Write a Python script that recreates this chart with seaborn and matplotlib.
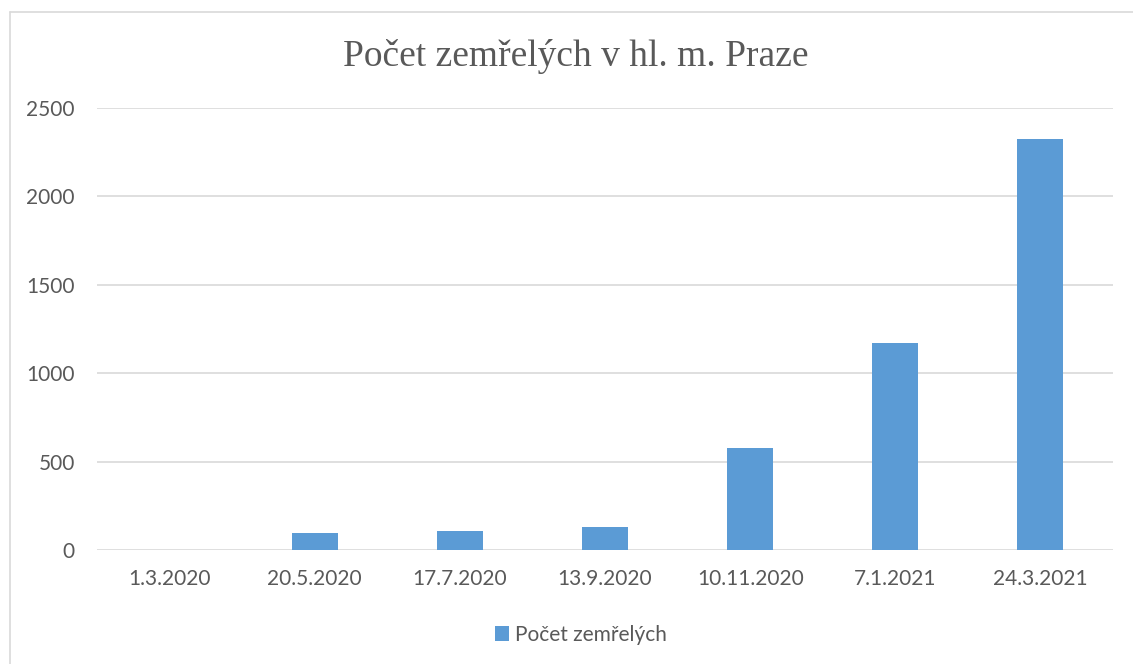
import matplotlib
matplotlib.use("Agg")
import matplotlib.pyplot as plt
import seaborn as sns
import pandas as pd
from matplotlib.lines import Line2D
from matplotlib.patches import Patch

categories = ["1.3.2020", "20.5.2020", "17.7.2020", "13.9.2020", "10.11.2020", "7.1.2021", "24.3.2021"]
values = [0, 94, 109, 132, 575, 1169, 2327]
y_ticks = [0, 500, 1000, 1500, 2000, 2500]
series_name = "Počet zemřelých"
title = "Počet zemřelých v hl. m. Praze"

sns.set_theme(style="white")
plt.rcParams['font.family'] = ['Lato', 'DejaVu Sans']

text_color = "#595959"
bar_color = "#5B9BD5"
grid_color = "#D9D9D9"

df = pd.DataFrame({"date": categories, "count": values})

fig = plt.figure(figsize=(11.33, 6.64), dpi=100)
fig.patch.set_facecolor("white")
ax = fig.add_axes([97 / 1133, 1 - 550 / 664, (1113 - 97) / 1133, (550 - 108) / 664])

sns.barplot(data=df, x="date", y="count", color=bar_color, width=0.317,
            saturation=1, ax=ax, order=categories, edgecolor="none")

ax.set_ylim(0, 2500)
ax.set_xlim(-0.5, len(categories) - 0.5)
ax.set_yticks(y_ticks)
ax.set_yticklabels([str(t) for t in y_ticks])
ax.set_xlabel("")
ax.set_ylabel("")
for s in ax.spines.values():
    s.set_visible(False)
ax.yaxis.grid(True, color=grid_color, linewidth=1.2)
ax.set_axisbelow(True)
ax.tick_params(axis="both", length=0, labelsize=15, colors=text_color)
ax.tick_params(axis="y", pad=16)
ax.tick_params(axis="x", pad=14)

fig.text(576 / 1133, 1 - 56 / 664, title, ha="center", va="center",
         fontsize=27, color=text_color, family=["Liberation Serif", "DejaVu Serif"])

handles = [Patch(facecolor=bar_color, edgecolor="none", label=series_name)]
fig.legend(handles=handles, loc="center", bbox_to_anchor=(581 / 1133, 1 - 635 / 664),
           frameon=False, fontsize=15, labelcolor=text_color, handlelength=0.7,
           handleheight=0.7, handletextpad=0.3)

# chart border (left and top visible)
fig.add_artist(Line2D([9.5 / 1133, 9.5 / 1133], [0, 1 - 11.5 / 664], transform=fig.transFigure,
                      color=grid_color, linewidth=1.2))
fig.add_artist(Line2D([9.5 / 1133, 1], [1 - 11.5 / 664, 1 - 11.5 / 664], transform=fig.transFigure,
                      color=grid_color, linewidth=1.2))

fig.savefig("out.png", dpi=100, facecolor="white")
